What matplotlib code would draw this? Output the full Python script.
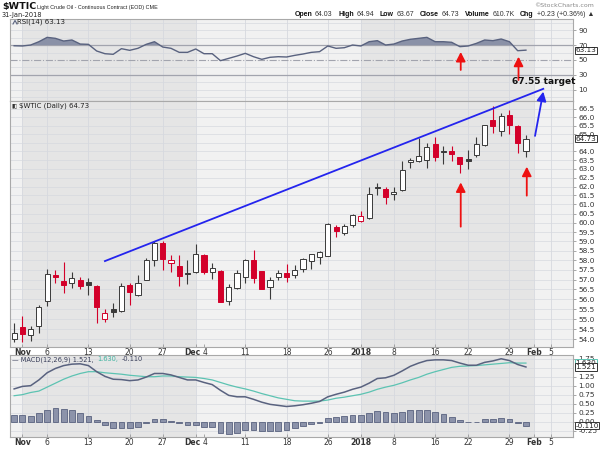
import numpy as np
import matplotlib
matplotlib.use('Agg')
import matplotlib.pyplot as plt
from matplotlib.lines import Line2D
from matplotlib.offsetbox import TextArea, HPacker, AnnotationBbox
from matplotlib.ticker import FixedLocator, NullLocator, NullFormatter
from matplotlib.transforms import ScaledTranslation

# x = trading day number: 0 = 31 Oct 2017 ... 62 = 31 Jan 2018
day_ticks = [1, 4, 9, 14, 18, 22, 23, 28, 33, 38, 42, 46, 51, 55, 60, 63, 65]
day_labels = ['Nov', '6', '13', '20', '27', 'Dec', '4', '11', '18', '26',
              '2018', '8', '16', '22', '29', 'Feb', '5']
month_labels = ['Nov', 'Dec', '2018', 'Feb']
grid_days = [1, 4, 9, 14, 18, 22, 28, 33, 38, 42, 46, 51, 55, 60, 63, 65]
month_shade = [(1, 22), (42, 63)]

opens = [54.0, 54.6, 54.22, 54.67, 55.9, 57.25, 56.9, 56.8, 56.98, 56.86,
         56.65, 55.0, 55.5, 55.4, 56.72, 56.2, 57.0, 58.0, 58.9, 57.85,
         57.68, 57.35, 57.4, 58.3, 57.4, 57.46, 55.9, 56.58, 57.15, 58.0,
         57.42, 56.62, 57.15, 57.35, 57.25, 57.55, 57.98, 58.15, 58.25, 59.75,
         59.47, 59.9, 60.12, 60.25, 62.0, 61.87, 61.57, 61.8, 63.37, 63.42,
         63.5, 64.42, 64.0, 64.0, 63.65, 63.55, 63.8, 64.35, 65.85, 65.2,
         66.14, 65.5, 64.03]
highs = [54.8, 55.15, 54.67, 55.7, 57.57, 57.51, 57.9, 57.38, 57.15, 57.1,
         56.7, 55.5, 55.8, 56.8, 56.8, 57.25, 58.1, 59.0, 59.0, 58.3,
         58.28, 58.0, 58.85, 58.35, 57.86, 57.5, 56.75, 57.5, 58.05, 58.54,
         57.45, 57.15, 57.5, 57.8, 57.78, 58.1, 58.35, 58.48, 60.0, 59.9,
         59.95, 60.5, 60.65, 61.95, 62.18, 61.99, 61.95, 63.47, 63.63, 64.75,
         64.47, 64.85, 64.3, 64.3, 63.7, 64.1, 64.85, 65.55, 66.65, 66.24,
         66.45, 65.55, 64.94]
lows = [53.88, 53.85, 53.93, 54.33, 55.63, 56.8, 56.3, 56.58, 56.5, 56.2,
        54.8, 54.85, 55.1, 55.35, 55.7, 56.18, 56.98, 57.7, 57.5, 57.4,
        56.68, 56.75, 57.35, 57.3, 57.03, 55.86, 55.7, 56.5, 56.8, 56.8,
        56.5, 56.0, 57.0, 56.85, 57.1, 57.4, 57.55, 57.8, 58.2, 59.25,
        59.35, 59.75, 60.05, 60.2, 61.52, 61.0, 61.25, 61.77, 63.07, 63.38,
        63.03, 63.42, 63.3, 63.45, 62.78, 62.98, 63.65, 64.3, 65.07, 64.87,
        65.0, 63.9, 63.67]
closes = [54.3, 54.25, 54.5, 55.6, 57.3, 57.12, 56.72, 57.1, 56.68, 56.74,
          55.6, 55.3, 55.33, 56.65, 56.34, 56.8, 58.0, 58.9, 58.05, 58.0,
          57.2, 57.3, 58.33, 57.4, 57.58, 55.86, 56.6, 57.33, 58.0, 57.07,
          56.5, 57.0, 57.33, 57.15, 57.52, 58.05, 58.33, 58.45, 59.95, 59.57,
          59.83, 60.41, 60.35, 61.6, 61.9, 61.4, 61.72, 62.94, 63.52, 63.75,
          64.27, 63.67, 63.95, 63.85, 63.27, 63.45, 64.4, 65.55, 65.5, 66.1,
          65.55, 64.5, 64.73]

rsi = [69, 68.7, 70, 74.4, 80.2, 78.9, 75.3, 76.7, 71.3, 70.9,
       62, 58.4, 57.6, 65.1, 62.9, 65.6, 70.9, 74.4, 67.3, 65.6,
       60.2, 60.2, 64.7, 58.4, 58.4, 49.1, 52.2, 55.3, 58.9, 54.4,
       50.9, 53.6, 54.4, 54.0, 56.2, 58, 60.2, 61.1, 68.7, 65.6,
       66.4, 70, 68.7, 74.4, 75.8, 70, 71.3, 75.3, 77.6, 78.9,
       80.2, 74.4, 74.4, 73.6, 67.8, 68.7, 72.2, 76.7, 75.8, 78,
       74.4, 62.4, 63.13]

macd = [0.91, 0.98, 1.0, 1.16, 1.36, 1.48, 1.56, 1.6, 1.61, 1.56,
        1.39, 1.26, 1.18, 1.17, 1.14, 1.16, 1.24, 1.34, 1.34, 1.30,
        1.23, 1.16, 1.16, 1.09, 1.03, 0.87, 0.73, 0.69, 0.69, 0.62,
        0.54, 0.48, 0.45, 0.42, 0.44, 0.47, 0.51, 0.56, 0.69, 0.76,
        0.82, 0.90, 0.96, 1.07, 1.2, 1.22, 1.29, 1.41, 1.54, 1.63,
        1.70, 1.72, 1.72, 1.70, 1.63, 1.57, 1.57, 1.65, 1.69, 1.75,
        1.70, 1.59, 1.521]
signal = [0.72, 0.75, 0.81, 0.85, 0.96, 1.07, 1.18, 1.27, 1.34, 1.39,
          1.39, 1.36, 1.34, 1.32, 1.29, 1.27, 1.25, 1.25, 1.27, 1.27,
          1.25, 1.24, 1.23, 1.20, 1.16, 1.09, 1.02, 0.96, 0.91, 0.85,
          0.78, 0.72, 0.66, 0.62, 0.58, 0.57, 0.57, 0.57, 0.60, 0.65,
          0.68, 0.72, 0.76, 0.82, 0.90, 0.96, 1.01, 1.08, 1.16, 1.23,
          1.32, 1.39, 1.45, 1.51, 1.54, 1.55, 1.56, 1.58, 1.60, 1.62,
          1.64, 1.63, 1.630]
hist = [0.18, 0.18, 0.15, 0.23, 0.33, 0.37, 0.35, 0.31, 0.23, 0.15,
        0.04, -0.1, -0.18, -0.18, -0.18, -0.16, -0.04, 0.06, 0.06, 0.02,
        -0.03, -0.1, -0.09, -0.14, -0.16, -0.32, -0.34, -0.31, -0.23, -0.23,
        -0.26, -0.26, -0.25, -0.23, -0.18, -0.12, -0.07, -0.03, 0.09, 0.12,
        0.15, 0.18, 0.18, 0.24, 0.29, 0.27, 0.24, 0.27, 0.31, 0.32,
        0.31, 0.27, 0.2, 0.14, 0.05, 0.0, 0.0, 0.06, 0.07, 0.1,
        0.06, -0.05, -0.11]

# 64.5 and 1.50 sit under the value boxes, so they are not labelled
price_ticks = [54.0 + 0.5 * k for k in range(26) if k != 21]
price_grid = [54.0 + 0.5 * k for k in range(26)]
rsi_ticks = [10, 30, 50, 70, 90]
macd_ticks = [-0.25, 0.0, 0.25, 0.5, 0.75, 1.0, 1.25, 1.75]
macd_grid = [-0.25, 0.0, 0.25, 0.5, 0.75, 1.0, 1.25, 1.5, 1.75]

# drawn annotations
trend_x = [11.0, 64.1]
trend_y = [57.96, 67.72]
target = 67.55
rsi_arrows = [(54.1, 36.7, 60.7), (61.1, 23.3, 54.4)]
price_arrows = [(54.1, 59.79, 62.23), (62.1, 61.49, 63.12)]
blue_arrow = (63.1, 64.9, 64.1, target)

BG = '#f1f1f1'
SHADE = '#e5e5e5'
GRID = '#d6d9df'
RED = '#d3002a'
DARK = '#3a3a3a'
BLUE = '#2424ee'
W, H = 600, 450


def px(x, y):
    return x / W, 1 - y / H


fig = plt.figure(figsize=(6, 4.5), dpi=100)


def panel(top, bottom):
    a = fig.add_axes([10 / W, 1 - bottom / H, 563 / W, (bottom - top) / H])
    a.set_facecolor(BG)
    a.set_xlim(-0.5, 67.7)
    for s in a.spines.values():
        s.set_color('#a9a9a9')
        s.set_linewidth(0.8)
    for x0, x1 in month_shade:
        a.axvspan(x0, x1, color=SHADE, lw=0, zorder=0)
    for g in grid_days:
        a.axvline(g, color=GRID, lw=0.6, zorder=0.5)
    a.yaxis.tick_right()
    a.tick_params(axis='y', length=2, width=0.6, pad=2, labelsize=5.3,
                  color='#999999', labelcolor='#333333')
    a.set_xticks(day_ticks)
    a.set_xticklabels(day_labels)
    a.tick_params(axis='x', direction='in', length=2, width=0.6, pad=0.8, labelsize=5.5,
                  color='#999999', labelcolor='#333333')
    for t in a.get_xticklabels():
        if t.get_text() in month_labels:
            t.set_fontweight('bold')
        # "Dec" and "4" sit one day apart and read as "Dec4"
        if t.get_text() == 'Dec':
            t.set_transform(t.get_transform() + ScaledTranslation(-3.5 / 100, 0, fig.dpi_scale_trans))
        if t.get_text() == '4':
            t.set_transform(t.get_transform() + ScaledTranslation(1.5 / 100, 0, fig.dpi_scale_trans))
    return a


def value_box(a, y, txt, edge='#333333'):
    a.text(1.004, y, txt, transform=a.get_yaxis_transform(), ha='left', va='center',
           fontsize=5.2, color='#222222', clip_on=False, zorder=10,
           bbox=dict(boxstyle='square,pad=0.08', fc='white', ec=edge, lw=0.7))


# ---- RSI panel
ax_r = panel(19, 101)
ax_r.tick_params(axis='x', labelbottom=False, length=0)
ax_r.set_ylim(-4.7, 104.7)
for v in range(0, 101, 10):
    if v not in (30, 50, 70):
        ax_r.axhline(v, color=GRID, lw=0.5, zorder=0.5)
ax_r.axhline(70, color='#a2a4ae', lw=0.9, zorder=1)
ax_r.axhline(30, color='#a2a4ae', lw=0.9, zorder=1)
ax_r.axhline(50, color='#a2a4ae', lw=0.8, ls='-.', zorder=1)
days = np.arange(len(closes))
r = np.array(rsi)
ax_r.fill_between(days, r, 70, where=r > 70, interpolate=True, color='#8a91a7', lw=0, zorder=2)
ax_r.plot(days, r, color='#59627f', lw=1.0, zorder=3)
ax_r.yaxis.set_major_locator(FixedLocator(rsi_ticks))
value_box(ax_r, rsi[-1], '%.2f' % rsi[-1])
for d, y0, y1 in rsi_arrows:
    ax_r.annotate('', xy=(d, y1), xytext=(d, y0), annotation_clip=False,
                  arrowprops=dict(arrowstyle='-|>,head_length=0.55,head_width=0.28',
                                  color='#ee1111', lw=1.3, shrinkA=0, shrinkB=0))

# ---- price panel
ax = panel(101, 347)
ax.set_yscale('log')
ax.set_ylim(53.63, 66.98)
for v in price_grid:
    ax.axhline(v, color=GRID, lw=0.5, zorder=0.5)
ax.yaxis.set_major_locator(FixedLocator(price_ticks))
ax.yaxis.set_major_formatter(plt.FuncFormatter(lambda v, p: '%.1f' % v))
ax.yaxis.set_minor_locator(NullLocator())
ax.yaxis.set_minor_formatter(NullFormatter())

o, h, l, c = (np.array(v) for v in (opens, highs, lows, closes))
prev = np.r_[c[0], c[:-1]]
edge = np.where(c < prev, RED, DARK)
face = np.where(c > o, 'white', edge)
ax.vlines(days, l, h, colors=edge, lw=0.8, zorder=3)
ax.bar(days, np.maximum(np.abs(c - o), 0.03), bottom=np.minimum(o, c), width=0.62,
       color=face, edgecolor=edge, lw=0.7, zorder=4)
value_box(ax, closes[-1], '%.2f' % closes[-1])

ax.plot(trend_x, trend_y, color=BLUE, lw=1.3, clip_on=False, zorder=6)
ax.annotate('', xy=(blue_arrow[2], blue_arrow[3]), xytext=(blue_arrow[0], blue_arrow[1]),
            annotation_clip=False,
            arrowprops=dict(arrowstyle='-|>,head_length=0.55,head_width=0.28',
                            color=BLUE, lw=1.3, shrinkA=0, shrinkB=0))
ax.text(64.1, 68.15, '%.2f target' % target, ha='center', va='center', fontsize=6.5,
        fontweight='bold', color='#111111', clip_on=False, zorder=7)
for d, y0, y1 in price_arrows:
    ax.annotate('', xy=(d, y1), xytext=(d, y0), annotation_clip=False,
                arrowprops=dict(arrowstyle='-|>,head_length=0.55,head_width=0.28',
                                color='#ee1111', lw=1.3, shrinkA=0, shrinkB=0))

# ---- MACD panel
ax_m = panel(355, 437)
ax_m.set_ylim(-0.43, 1.855)
for v in macd_grid:
    ax_m.axhline(v, color=GRID, lw=0.5, zorder=0.5)
ax_m.yaxis.set_major_locator(FixedLocator(macd_ticks))
ax_m.yaxis.set_major_formatter(plt.FuncFormatter(lambda v, p: '%.2f' % v))
ax_m.bar(days, hist, width=0.7, color='#8c93aa', edgecolor='#59627f', lw=0.6, zorder=2)
ax_m.plot(days, signal, color='#5cc3b2', lw=0.9, zorder=3)
ax_m.plot(days, macd, color='#59627f', lw=1.1, zorder=4)
value_box(ax_m, signal[-1], '%.3f' % signal[-1], edge='#5cc3b2')
value_box(ax_m, macd[-1], '%.3f' % macd[-1])
value_box(ax_m, hist[-1], '%.3f' % hist[-1])

# ---- header and panel labels
fig.text(*px(2, 7), '$WTIC', fontsize=6.8, fontweight='bold', va='center', color='#111111')
fig.text(*px(37, 7.5), 'Light Crude Oil - Continuous Contract (EOD) CME', fontsize=3.9,
         family='Liberation Sans', va='center', color='#222222')
fig.text(*px(2, 14.5), '31-Jan-2018', fontsize=4.8, va='center', color='#222222')
fig.text(*px(594, 5.5), '\u00a9StockCharts.com', fontsize=4.5, ha='right', va='center',
         color='#888888')

groups = [('Open', '64.03'), ('High', '64.94'), ('Low', '63.67'), ('Close', '64.73'),
          ('Volume', '610.7K'), ('Chg', '+0.23 (+0.36%) \u25b2')]
packs = []
for lab, val in groups:
    packs.append(HPacker(children=[
        TextArea(lab, textprops=dict(fontsize=5.0, fontweight='bold', color='#111111',
                                     family=['Liberation Sans', 'DejaVu Sans'])),
        TextArea(val, textprops=dict(fontsize=5.0, color='#333333',
                                     family=['Liberation Sans', 'DejaVu Sans']))],
        sep=2, pad=0))
hdr = AnnotationBbox(HPacker(children=packs, sep=4, pad=0), px(594, 15),
                     xycoords='figure fraction', box_alignment=(1, 0.5), frameon=False, pad=0)
fig.add_artist(hdr)

fig.add_artist(Line2D([13 / W, 15 / W, 17 / W], [1 - 24 / H, 1 - 20.5 / H, 1 - 24 / H],
                      transform=fig.transFigure, color='#59627f', lw=0.8))
fig.text(*px(17, 22), 'RSI(14) %.2f' % rsi[-1], fontsize=5, va='center', color='#222222')
fig.text(*px(11, 106), '\u25ae\u25af', fontsize=4, va='center', color='#333333')
fig.text(*px(19, 106), '$WTIC (Daily) %.2f' % closes[-1], fontsize=5, va='center',
         color='#222222')

macd_lbl = HPacker(children=[
    TextArea('\u2014 MACD(12,26,9) %.3f,' % macd[-1], textprops=dict(fontsize=4.8, color='#3a3f5a')),
    TextArea('%.3f,' % signal[-1], textprops=dict(fontsize=4.8, color='#3fb3a0')),
    TextArea('%.3f' % hist[-1], textprops=dict(fontsize=4.8, color='#3a3f5a'))], sep=2.5, pad=0)
fig.add_artist(AnnotationBbox(macd_lbl, px(12, 359.5), xycoords='figure fraction',
                              box_alignment=(0, 0.5), frameon=False, pad=0))

fig.savefig('out.png', dpi=100, facecolor='white')
